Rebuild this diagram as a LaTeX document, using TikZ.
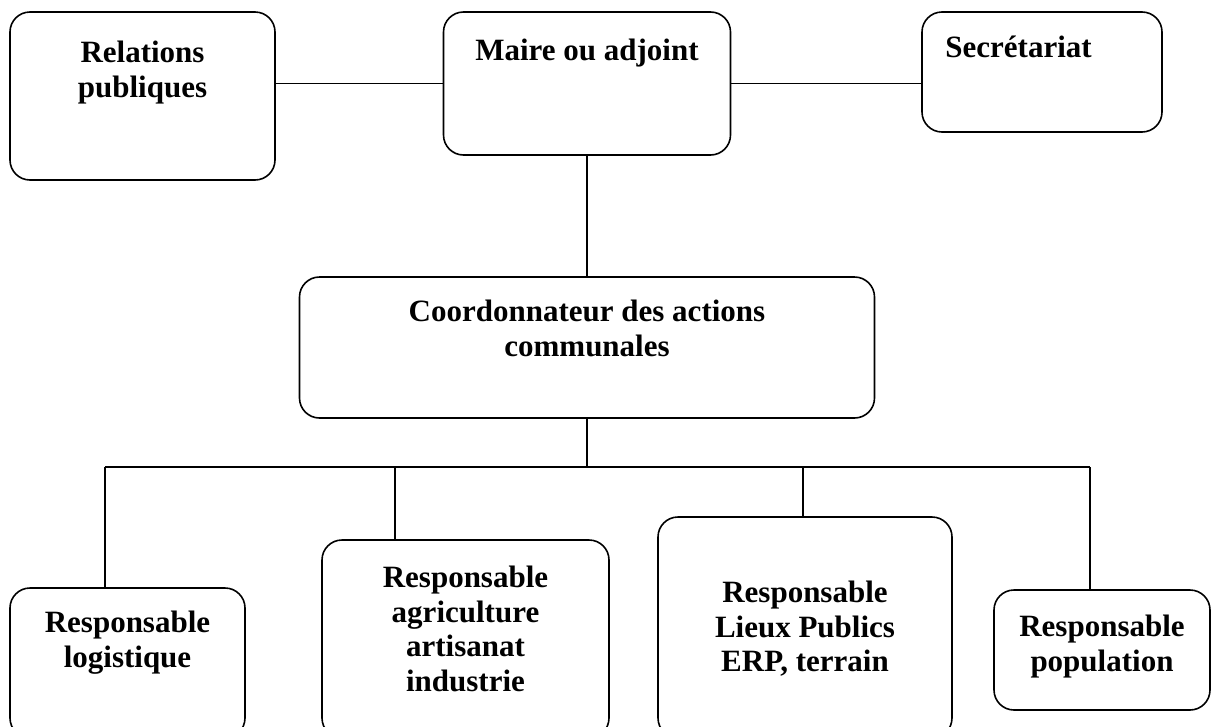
\documentclass[tikz,border=0pt]{standalone}
\usepackage{fontspec}
\setmainfont{Liberation Serif}
\usepackage{tikz}
\usetikzlibrary{positioning}

\tikzset{
  box/.style={draw,line width=1.6pt,rounded corners=20pt,fill=white},
  lbl/.style={inner sep=0pt,align=center,font=\fontsize{31}{34.5}\selectfont\bfseries},
  wire/.style={line width=1.5pt}
}

\begin{document}
\begin{tikzpicture}[x=1pt,y=-1pt]
        \useasboundingbox (0,0) rectangle (1224,726);

        \node[box,minimum width=265pt,minimum height=168pt] (relations) at (142.5,96) {};
        \node[lbl,below=30pt] at (relations.north) {Relations\\publiques};

        \node[box,minimum width=287pt,minimum height=143pt] (maire) at (587,83.5) {};
        \node[lbl,below=28pt] at (maire.north) {Maire ou adjoint};

        \node[box,minimum width=240pt,minimum height=120pt] (secretariat) at (1042,72) {};
        \node[lbl,anchor=north west] at ([xshift=24pt,yshift=-25pt]secretariat.north west) {Secrétariat};

        \node[box,minimum width=575pt,minimum height=141pt] (coord) at (587,347.5) {};
        \node[lbl,below=24pt] at (coord.north) {Coordonnateur des actions\\communales};

        \node[box,minimum width=235pt,minimum height=150pt] (logistique) at (127.5,663) {};
        \node[lbl,below=24pt] at (logistique.north) {Responsable\\logistique};

        \node[box,minimum width=287pt,minimum height=198pt] (agriculture) at (465.5,639) {};
        \node[lbl,below=27pt] at (agriculture.north) {Responsable\\agriculture\\artisanat\\industrie};

        \node[box,minimum width=294pt,minimum height=221pt] (lieux) at (805,627.5) {};
        \node[lbl,below=65pt] at (lieux.north) {Responsable\\Lieux Publics\\ERP, terrain};

        \node[box,minimum width=216pt,minimum height=120pt] (population) at (1102,650) {};
        \node[lbl,below=26pt] at (population.north) {Responsable\\population};

        % liaisons
        \draw[wire] (maire.west) -- (maire.west -| relations.east);
        \draw[wire] (maire.east) -- (maire.east -| secretariat.west);
        \draw[wire] (maire.south) -- (coord.north);

        \coordinate (bus) at (587,467);
        \coordinate (d1) at (105,467);
        \coordinate (d2) at (395,467);
        \coordinate (d3) at (803,467);
        \coordinate (d4) at (1090,467);
        \draw[wire] (coord.south) -- (bus);
        \draw[wire] (d1) -- (d4);
        \draw[wire] (d1) -- (d1 |- logistique.north);
        \draw[wire] (d2) -- (d2 |- agriculture.north);
        \draw[wire] (d3) -- (d3 |- lieux.north);
        \draw[wire] (d4) -- (d4 |- population.north);
    \end{tikzpicture}
\end{document}
